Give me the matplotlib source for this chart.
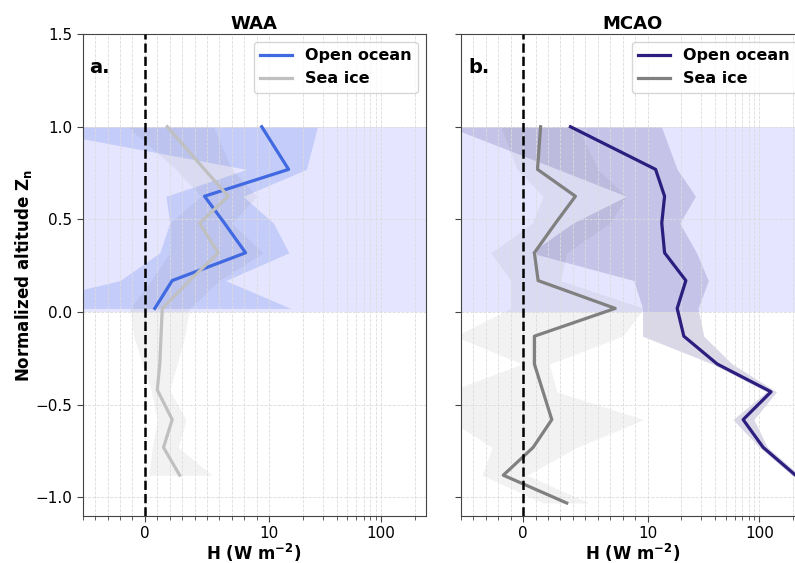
import matplotlib
matplotlib.use('Agg')
import matplotlib.pyplot as plt
import numpy as np

# WAA profiles (normalized altitude, sensible heat flux and spread)
z_waa_ocean = [1.0, 0.77, 0.625, 0.48, 0.32, 0.17, 0.02]
h_waa_ocean = [9.4, 14.9, 4.8, 6.4, 8.1, 2.2, 0.8]
lo_waa_ocean = [-10.5, 8.2, 1.7, 2.0, 1.2, -2.0, -14.0]
hi_waa_ocean = [27.0, 21.5, 7.9, 10.9, 15.0, 6.5, 15.5]

z_waa_ice = [1.0, 0.77, 0.625, 0.48, 0.32, 0.17, 0.02, -0.13, -0.28, -0.42, -0.58, -0.73, -0.88]
h_waa_ice = [1.8, 4.8, 6.7, 4.4, 5.9, 3.6, 1.4, 1.3, 1.2, 1.0, 2.2, 1.5, 2.8]
lo_waa_ice = [-1.4, 2.5, 4.5, 2.0, 2.0, 0.5, -1.2, -0.9, -0.2, 0.5, 1.0, 0.6, 0.3]
hi_waa_ice = [5.5, 7.0, 9.0, 7.0, 9.5, 6.0, 3.6, 3.2, 2.6, 2.0, 3.3, 2.7, 5.4]

# MCAO profiles
z_mcao_ocean = [1.0, 0.77, 0.625, 0.48, 0.32, 0.17, 0.02, -0.13, -0.28, -0.43, -0.58, -0.73, -0.88]
h_mcao_ocean = [3.8, 11.8, 14.2, 13.4, 14.2, 22.0, 18.4, 21.1, 41.9, 127, 71.5, 108, 210]
lo_mcao_ocean = [-6.0, 2.8, 8.3, 4.0, 0.6, 8.9, 9.6, 9.6, 38, 115, 58, 100, 195]
hi_mcao_ocean = [13.3, 18.4, 26.8, 19.4, 27.4, 34.9, 28.3, 31.8, 57, 142, 89, 118, 230]

z_mcao_ice = [1.0, 0.77, 0.625, 0.48, 0.32, 0.17, 0.02, -0.13, -0.28, -0.43, -0.58, -0.73, -0.88, -1.03]
h_mcao_ice = [1.4, 1.15, 4.2, 2.6, 0.9, 1.2, 7.4, 0.9, 0.9, 1.6, 2.3, 0.8, -1.6, 3.5]
lo_mcao_ice = [-1.8, -0.5, 1.6, 0.75, -2.6, -1.0, -1.0, -5.5, -0.1, -6.0, -6.0, -2.5, -3.3, 1.6]
hi_mcao_ice = [4.4, 6.0, 8.3, 7.0, 3.5, 3.0, 9.7, 8.0, 2.1, 2.7, 9.7, 4.3, 0.3, 5.3]

major_x = [0, 10, 100]
minor_x = [-5, -4, -3, -2, -1, 1, 2, 3, 4, 5, 6, 7, 8, 9,
           20, 30, 40, 50, 60, 70, 80, 90, 200]

fig = plt.figure(figsize=(7.95, 5.63), dpi=100)
ax_a = fig.add_axes([0.104, 0.0835, 0.4314, 0.856])
ax_b = fig.add_axes([0.5799, 0.0835, 0.4314, 0.856], sharey=ax_a)

panels = [
    (ax_a, 'WAA', 'a.',
     (z_waa_ocean, h_waa_ocean, lo_waa_ocean, hi_waa_ocean, 'royalblue'),
     (z_waa_ice, h_waa_ice, lo_waa_ice, hi_waa_ice, 'silver')),
    (ax_b, 'MCAO', 'b.',
     (z_mcao_ocean, h_mcao_ocean, lo_mcao_ocean, hi_mcao_ocean, '#2c1e7e'),
     (z_mcao_ice, h_mcao_ice, lo_mcao_ice, hi_mcao_ice, 'grey')),
]

for ax, title, tag, ocean, ice in panels:
    ax.set_xscale('symlog', linthresh=10, linscale=1)
    ax.axhspan(0, 1, color='blue', alpha=0.1, lw=0, zorder=0)

    z, h, lo, hi, c = ice
    ax.fill_betweenx(z, lo, hi, color='grey', alpha=0.1, lw=0, zorder=1)
    z2, h2, lo2, hi2, c2 = ocean
    fill_c = 'royalblue' if c2 == 'royalblue' else 'darkslateblue'
    ax.fill_betweenx(z2, lo2, hi2, color=fill_c, alpha=0.2, lw=0, zorder=1)

    ax.plot(h2, z2, color=c2, lw=2.3, label='Open ocean', zorder=3)
    ax.plot(h, z, color=c, lw=2.3, label='Sea ice', zorder=3)
    ax.axvline(0, color='black', ls='--', lw=1.8, zorder=4)

    ax.set_xlim(-5, 250)
    ax.set_ylim(-1.1, 1.5)
    ax.set_xticks(major_x)
    ax.set_xticklabels(['0', '10', '100'])
    ax.set_xticks(minor_x, minor=True)
    ax.set_yticks([-1.0, -0.5, 0.0, 0.5, 1.0, 1.5])
    ax.tick_params(axis='both', which='major', labelsize=11, length=4, color='#444444')
    ax.tick_params(axis='x', which='minor', length=3, color='#444444')
    ax.grid(True, axis='x', which='both', ls='--', lw=0.6, color='#dcdcdc', zorder=0)
    ax.grid(True, axis='y', which='major', ls='--', lw=0.6, color='#dcdcdc', zorder=0)
    for s in ax.spines.values():
        s.set_color('#444444')

    ax.set_title(title, fontsize=13, fontweight='bold', pad=4)
    ax.text(0.02, 0.93, tag, transform=ax.transAxes, fontsize=14,
            fontweight='bold', va='center', ha='left')
    ax.set_xlabel(r'H (W m$^{\mathbf{-2}}$)', fontsize=12, fontweight='bold', labelpad=0)
    ax.legend(loc='upper right', prop={'weight': 'bold', 'size': 11.5},
              borderaxespad=0.5)

ax_a.set_ylabel(r'Normalized altitude $\mathbf{Z_n}$', fontsize=12, fontweight='bold',
                labelpad=1)
plt.setp(ax_b.get_yticklabels(), visible=False)

fig.savefig('out.png', dpi=100)
